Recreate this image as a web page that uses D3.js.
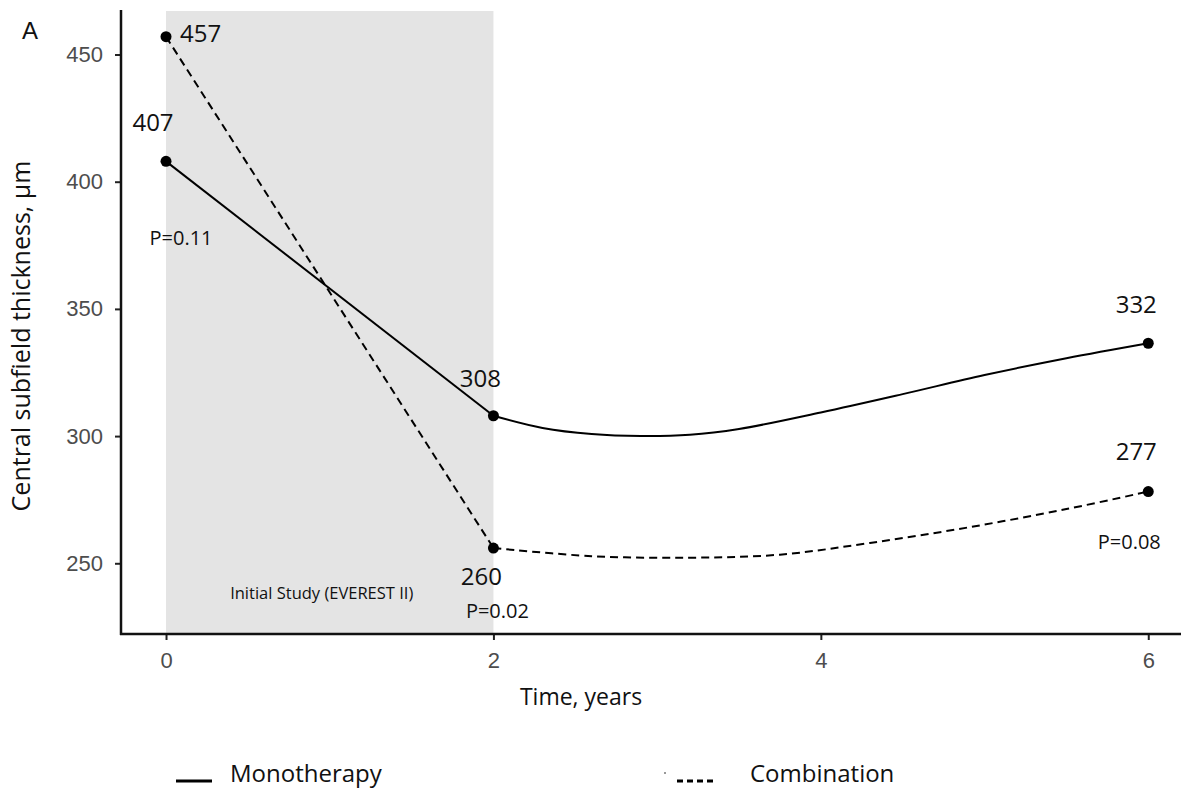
<!DOCTYPE html>
<html>
<head>
<meta charset="utf-8">
<script src="https://cdn.jsdelivr.net/npm/d3@7"></script>
<style>
  html, body { margin: 0; padding: 0; background: #ffffff; }
  svg { display: block; }
</style>
</head>
<body>
<svg id="chart" width="1198" height="793"></svg>
<script>
// ---------------- data ----------------
const years = [0, 2, 6];
const monoValues = [408, 308, 336.5];
const comboValues = [457, 256, 278.2];
const monoLabels = ["407", "308", "332"];
const comboLabels = ["457", "260", "277"];
const pLabels = ["P=0.11", "P=0.02", "P=0.08"];

// smoothed trend after year 2
const monoSmoothYears = [2, 2.3, 2.6, 2.9, 3.2, 3.5, 4, 4.5, 5, 5.5, 6];
const monoSmoothValues = [308, 303.2, 300.8, 300, 300.5, 302.8, 309.3, 316.5, 324, 330.6, 336.5];
const comboSmoothYears = [2, 2.6, 3.2, 3.75, 4.3, 4.9, 5.5, 6];
const comboSmoothValues = [256, 252.8, 252.2, 253.4, 258, 264.1, 271.3, 278.2];

const xTicks = [0, 2, 4, 6];
const yTicks = [250, 300, 350, 400, 450];
const shadeYears = [0, 2];
const shadeLabel = "Initial Study (EVEREST II)";
const xTitle = "Time, years";
const yTitle = "Central subfield thickness, µm";
const seriesNames = ["Monotherapy", "Combination"];
const panelLabel = "A";

// ---------------- layout ----------------
const svg = d3.select("#chart");
const x = d3.scaleLinear().domain([-0.275, 6.2]).range([121, 1181]);
const y = d3.scaleLinear().domain([222.2, 467.5]).range([634, 10]);

const sansText = "'Open Sans', 'Noto Sans', sans-serif";
const tickFont = "'Liberation Sans', Arial, sans-serif";

// shaded region
svg.append("rect")
  .attr("x", x(shadeYears[0]))
  .attr("y", y.range()[1] + 1)
  .attr("width", x(shadeYears[1]) - x(shadeYears[0]))
  .attr("height", y.range()[0] - y.range()[1] - 1)
  .attr("fill", "#e4e4e4");

svg.append("text")
  .attr("x", (x(shadeYears[0]) + x(shadeYears[1])) / 2 - 8)
  .attr("y", 599)
  .attr("text-anchor", "middle")
  .attr("font-family", sansText)
  .attr("font-size", 16.5)
  .attr("fill", "#111")
  .text(shadeLabel);

// axes
const yAxis = d3.axisLeft(y).tickValues(yTicks).tickSize(6).tickPadding(12).tickFormat(d3.format("d"));
const gy = svg.append("g").attr("transform", `translate(${x.range()[0]},0)`).call(yAxis);
gy.select(".domain").remove();
gy.selectAll(".tick line").attr("stroke", "#222").attr("stroke-width", 2);
gy.selectAll(".tick text").attr("font-family", tickFont).attr("font-size", 22).attr("fill", "#4d4d4d");

const xAxis = d3.axisBottom(x).tickValues(xTicks).tickSize(6).tickPadding(12).tickFormat(d3.format("d"));
const gx = svg.append("g").attr("transform", `translate(0,${y.range()[0]})`).call(xAxis);
gx.select(".domain").remove();
gx.selectAll(".tick line").attr("stroke", "#222").attr("stroke-width", 2);
gx.selectAll(".tick text").attr("font-family", tickFont).attr("font-size", 22).attr("fill", "#4d4d4d");

svg.append("line")
  .attr("x1", x.range()[0]).attr("x2", x.range()[0])
  .attr("y1", y.range()[1]).attr("y2", y.range()[0] + 1)
  .attr("stroke", "#111").attr("stroke-width", 2.5);
svg.append("line")
  .attr("x1", x.range()[0] - 1).attr("x2", x.range()[1])
  .attr("y1", y.range()[0]).attr("y2", y.range()[0])
  .attr("stroke", "#111").attr("stroke-width", 2.5);

// axis titles
svg.append("text")
  .attr("x", 581).attr("y", 705)
  .attr("text-anchor", "middle")
  .attr("font-family", sansText).attr("font-size", 23).attr("fill", "#111")
  .text(xTitle);

svg.append("text")
  .attr("transform", "translate(30,336) rotate(-90)")
  .attr("text-anchor", "middle")
  .attr("font-family", sansText).attr("font-size", 25).attr("fill", "#111")
  .text(yTitle);

svg.append("text")
  .attr("x", 22).attr("y", 39)
  .attr("font-family", tickFont).attr("font-size", 24).attr("fill", "#111")
  .text(panelLabel);

// lines
const lineLin = d3.line().x(d => x(d[0])).y(d => y(d[1]));
const lineSmooth = d3.line().x(d => x(d[0])).y(d => y(d[1])).curve(d3.curveCatmullRom.alpha(0.5));

const monoFirst = [[years[0], monoValues[0]], [years[1], monoValues[1]]];
const comboFirst = [[years[0], comboValues[0]], [years[1], comboValues[1]]];
const monoSmooth = monoSmoothYears.map((t, i) => [t, monoSmoothValues[i]]);
const comboSmooth = comboSmoothYears.map((t, i) => [t, comboSmoothValues[i]]);

svg.append("path").attr("d", lineLin(monoFirst))
  .attr("fill", "none").attr("stroke", "#000").attr("stroke-width", 2);
svg.append("path").attr("d", lineSmooth(monoSmooth))
  .attr("fill", "none").attr("stroke", "#000").attr("stroke-width", 2);
svg.append("path").attr("d", lineLin(comboFirst))
  .attr("fill", "none").attr("stroke", "#000").attr("stroke-width", 2)
  .attr("stroke-dasharray", "8,5");
svg.append("path").attr("d", lineSmooth(comboSmooth))
  .attr("fill", "none").attr("stroke", "#000").attr("stroke-width", 2)
  .attr("stroke-dasharray", "8,5");

// points
const pts = years.map((t, i) => [t, monoValues[i]]).concat(years.map((t, i) => [t, comboValues[i]]));
svg.selectAll("circle.pt").data(pts).enter().append("circle")
  .attr("class", "pt")
  .attr("cx", d => x(d[0])).attr("cy", d => y(d[1])).attr("r", 5.5)
  .attr("fill", "#000");

// value labels: offsets (dx = centre offset, dy = baseline offset)
const monoOffsets = [[-13, -30, "middle"], [-13, -29, "middle"], [-12, -30, "middle"]];
const comboOffsets = [[14, 5, "start"], [-12, 37, "middle"], [-12, -32, "middle"]];
years.forEach((t, i) => {
  svg.append("text")
    .attr("x", x(t) + monoOffsets[i][0]).attr("y", y(monoValues[i]) + monoOffsets[i][1])
    .attr("text-anchor", monoOffsets[i][2])
    .attr("font-family", sansText).attr("font-size", 24).attr("fill", "#111")
    .text(monoLabels[i]);
  svg.append("text")
    .attr("x", x(t) + comboOffsets[i][0]).attr("y", y(comboValues[i]) + comboOffsets[i][1])
    .attr("text-anchor", comboOffsets[i][2])
    .attr("font-family", sansText).attr("font-size", 24).attr("fill", "#111")
    .text(comboLabels[i]);
});

// p-values (positioned below the lower point of each year)
const pOffsets = [[15, 84, monoValues], [4, 70, comboValues], [-19, 57, comboValues]];
years.forEach((t, i) => {
  svg.append("text")
    .attr("x", x(t) + pOffsets[i][0]).attr("y", y(pOffsets[i][2][i]) + pOffsets[i][1])
    .attr("text-anchor", "middle")
    .attr("font-family", sansText).attr("font-size", 20).attr("fill", "#111")
    .text(pLabels[i]);
});

// legend
const legY = 782;
svg.append("line").attr("x1", 176).attr("x2", 212).attr("y1", legY - 1).attr("y2", legY - 1)
  .attr("stroke", "#000").attr("stroke-width", 3);
svg.append("text").attr("x", 230).attr("y", legY)
  .attr("font-family", sansText).attr("font-size", 24).attr("fill", "#111")
  .text(seriesNames[0]);
svg.append("circle").attr("cx", 665).attr("cy", 773).attr("r", 1).attr("fill", "#777");
svg.append("line").attr("x1", 677).attr("x2", 715).attr("y1", legY - 1).attr("y2", legY - 1)
  .attr("stroke", "#000").attr("stroke-width", 3).attr("stroke-dasharray", "6,4");
svg.append("text").attr("x", 750).attr("y", legY)
  .attr("font-family", sansText).attr("font-size", 24).attr("fill", "#111")
  .text(seriesNames[1]);
</script>
</body>
</html>
